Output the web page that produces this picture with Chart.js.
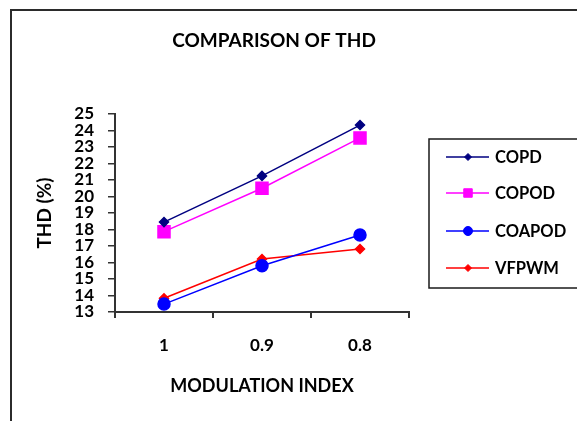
<!DOCTYPE html>
<html>
<head>
<meta charset="utf-8">
<title>Comparison of THD</title>
<script src="https://cdn.jsdelivr.net/npm/chart.js@4.4.1/dist/chart.umd.min.js"></script>
<style>
  html, body { margin: 0; padding: 0; background: #ffffff; }
  #wrap { position: relative; width: 577px; height: 421px; overflow: hidden; }
  #frame { position: absolute; left: 10px; top: 9px; width: 600px; height: 450px;
           border-left: 2px solid #2b2b2b; border-top: 2px solid #2b2b2b; box-sizing: border-box; }
  canvas { position: absolute; left: 0; top: 0; }
</style>
</head>
<body>
<div id="wrap">
  <div id="frame"></div>
  <canvas id="chart" width="577" height="421"></canvas>
</div>
<script>
// Modulation index categories and THD (%) for each PWM scheme
const modulationIndex = ['1', '0.9', '0.8'];
const copd   = [18.45, 21.25, 24.33];
const copod  = [17.87, 20.50, 23.55];
const coapod = [13.48, 15.80, 17.67];
const vfpwm  = [13.83, 16.21, 16.82];

const chartTitle = 'COMPARISON OF THD';
const xTitle = 'MODULATION INDEX';
const yTitle = 'THD (%)';

const FONT = 'Lato, "Open Sans", "Liberation Sans", sans-serif';

const series = [
  { label: 'COPD',   data: copd,   color: '#000080', style: 'rectRot', radius: 4.5, legendRadius: 3.5 },
  { label: 'COPOD',  data: copod,  color: '#ff00ff', style: 'rect',    radius: 8.5, legendRadius: 6 },
  { label: 'COAPOD', data: coapod, color: '#0000ff', style: 'circle',  radius: 6,   legendRadius: 4.5 },
  { label: 'VFPWM',  data: vfpwm,  color: '#ff0000', style: 'rectRot', radius: 4.5, legendRadius: 3.5 }
];

// Chart title and the boxed legend at the right, drawn on the canvas
const decorations = {
  id: 'decorations',
  afterDraw(chart) {
    const ctx = chart.ctx;
    ctx.save();
    ctx.fillStyle = '#000';
    ctx.textAlign = 'center';
    ctx.textBaseline = 'middle';
    ctx.font = 'bold 19px ' + FONT;
    ctx.fillText(chartTitle, 274, 41);

    ctx.strokeStyle = '#1a1a1a';
    ctx.lineWidth = 1.5;
    ctx.strokeRect(429, 139, 160, 149);

    const rows = [157, 193, 231, 268];
    series.forEach((s, i) => {
      const y = rows[i];
      ctx.strokeStyle = s.color;
      ctx.fillStyle = s.color;
      ctx.lineWidth = 1.5;
      ctx.beginPath();
      ctx.moveTo(446, y);
      ctx.lineTo(489, y);
      ctx.stroke();
      ctx.lineWidth = 1;
      Chart.helpers.drawPoint(ctx, {
        pointStyle: s.style,
        radius: s.legendRadius,
        rotation: 0,
        borderWidth: 1
      }, 468, y);
      ctx.fillStyle = '#000';
      ctx.textAlign = 'left';
      ctx.font = 'bold 16.5px ' + FONT;
      ctx.fillText(s.label, 495, y + 1);
    });
    ctx.restore();
  }
};

const datasets = series.map(s => ({
  label: s.label,
  data: s.data,
  borderColor: s.color,
  backgroundColor: s.color,
  pointBackgroundColor: s.color,
  pointBorderColor: s.color,
  pointStyle: s.style,
  pointRadius: s.radius,
  pointHoverRadius: s.radius,
  borderWidth: 1.5,
  tension: 0,
  fill: false
}));

const tickFont = { family: FONT, size: 17, weight: 'bold' };

new Chart(document.getElementById('chart'), {
  type: 'line',
  data: { labels: modulationIndex, datasets },
  plugins: [decorations],
  options: {
    responsive: false,
    animation: false,
    layout: { padding: { left: 30, top: 114, right: 168, bottom: 9 } },
    plugins: {
      legend: { display: false },
      title: { display: false },
      tooltip: { enabled: false }
    },
    scales: {
      x: {
        offset: true,
        grid: { display: true, drawOnChartArea: false, offset: true, tickLength: 6, color: '#333', lineWidth: 2 },
        border: { display: true, color: '#333', width: 2 },
        ticks: { color: '#000', font: tickFont, padding: 17 },
        title: { display: true, text: xTitle, color: '#000', font: { family: FONT, size: 18, weight: 'bold' }, padding: { top: 0, bottom: 15 } },
        afterFit(scale) { scale.height = 100; }
      },
      y: {
        min: 13,
        max: 25,
        ticks: { stepSize: 1, autoSkip: false, color: '#000', font: tickFont, padding: 14 },
        grid: { display: true, drawOnChartArea: false, tickLength: 7, color: '#333', lineWidth: 1.5 },
        border: { display: true, color: '#333', width: 2 },
        title: { display: true, text: yTitle, color: '#000', font: { family: FONT, size: 19, weight: 'bold' }, padding: { top: 3, bottom: 0 } },
        afterFit(scale) { scale.width = 85; }
      }
    }
  }
});
</script>
</body>
</html>
